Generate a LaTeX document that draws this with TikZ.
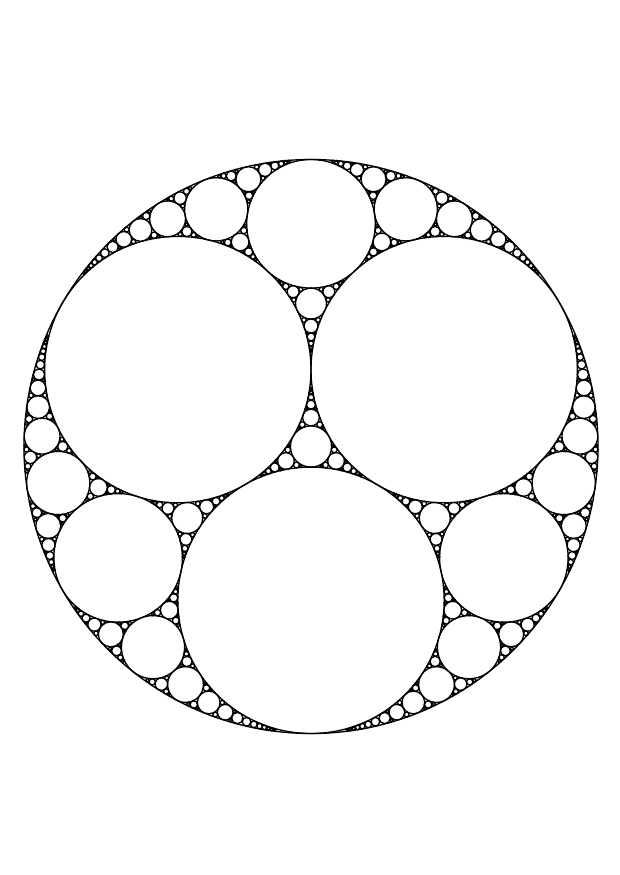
\documentclass[tikz,border=0pt]{standalone}

\tikzset{every picture/.style={line width=1pt}}

% centre, radius of the outer circle and the largest curvature drawn
\def\gcx{311}\def\gcy{446.5}\def\gR{287}
\def\gkmax{230}

% a circle is written k/kx/ky (curvature, curvature times centre)
\def\gread#1/#2/#3\gend#4#5#6{\def#4{#1}\def#5{#2}\def#6{#3}}

% fill the gap between #1, #2, #3; #4 is the circle on the other side
\newcommand\gapfill[4]{%
  \begingroup
  \gread#1\gend\ka\xa\ya
  \gread#2\gend\kb\xb\yb
  \gread#3\gend\kc\xc\yc
  \gread#4\gend\kd\xd\yd
  \pgfmathsetmacro\kn{2*((\ka)+(\kb)+(\kc))-(\kd)}%
  \ifdim\kn pt<\gkmax pt
    \pgfmathsetmacro\xn{2*((\xa)+(\xb)+(\xc))-(\xd)}%
    \pgfmathsetmacro\yn{2*((\ya)+(\yb)+(\yc))-(\yd)}%
    \pgfmathsetmacro\px{\gcx+(\xn)/\kn*\gR}%
    \pgfmathsetmacro\py{\gcy+(\yn)/\kn*\gR}%
    \pgfmathsetmacro\pr{\gR/\kn}%
    \draw (\px,\py) circle[radius=\pr];
    \edef\gnext{\noexpand\gapfill{#1}{#2}{\kn/\xn/\yn}{#3}%
      \noexpand\gapfill{#1}{#3}{\kn/\xn/\yn}{#2}%
      \noexpand\gapfill{#2}{#3}{\kn/\xn/\yn}{#1}}%
  \else
    \def\gnext{}%
  \fi
  \expandafter\endgroup\gnext}

\begin{document}
\begin{tikzpicture}[x=0.75pt,y=0.75pt,yscale=-1,xscale=1]
	\useasboundingbox[fill=white] (0,0) rectangle (620,875);
	
	%Shape: Circle [outer]
	\draw (\gcx,\gcy) circle[radius=\gR];
	%Shape: Circle [bottom]
	\draw (\gcx,\gcy+0.5358984*\gR) circle[radius=0.4641016*\gR];
	%Shape: Circle [top left]
	\draw (\gcx-0.4641016*\gR,\gcy-0.2679492*\gR) circle[radius=0.4641016*\gR];
	%Shape: Circle [top right]
	\draw (\gcx+0.4641016*\gR,\gcy-0.2679492*\gR) circle[radius=0.4641016*\gR];
	
	% Gaps
	\gapfill{2.1547005/0/1.1547005}{2.1547005/-1/-0.5773503}{2.1547005/1/-0.5773503}{-1/0/0}
	\gapfill{-1/0/0}{2.1547005/0/1.1547005}{2.1547005/-1/-0.5773503}{2.1547005/1/-0.5773503}
	\gapfill{-1/0/0}{2.1547005/0/1.1547005}{2.1547005/1/-0.5773503}{2.1547005/-1/-0.5773503}
	\gapfill{-1/0/0}{2.1547005/-1/-0.5773503}{2.1547005/1/-0.5773503}{2.1547005/0/1.1547005}
	
\end{tikzpicture}
\end{document}
